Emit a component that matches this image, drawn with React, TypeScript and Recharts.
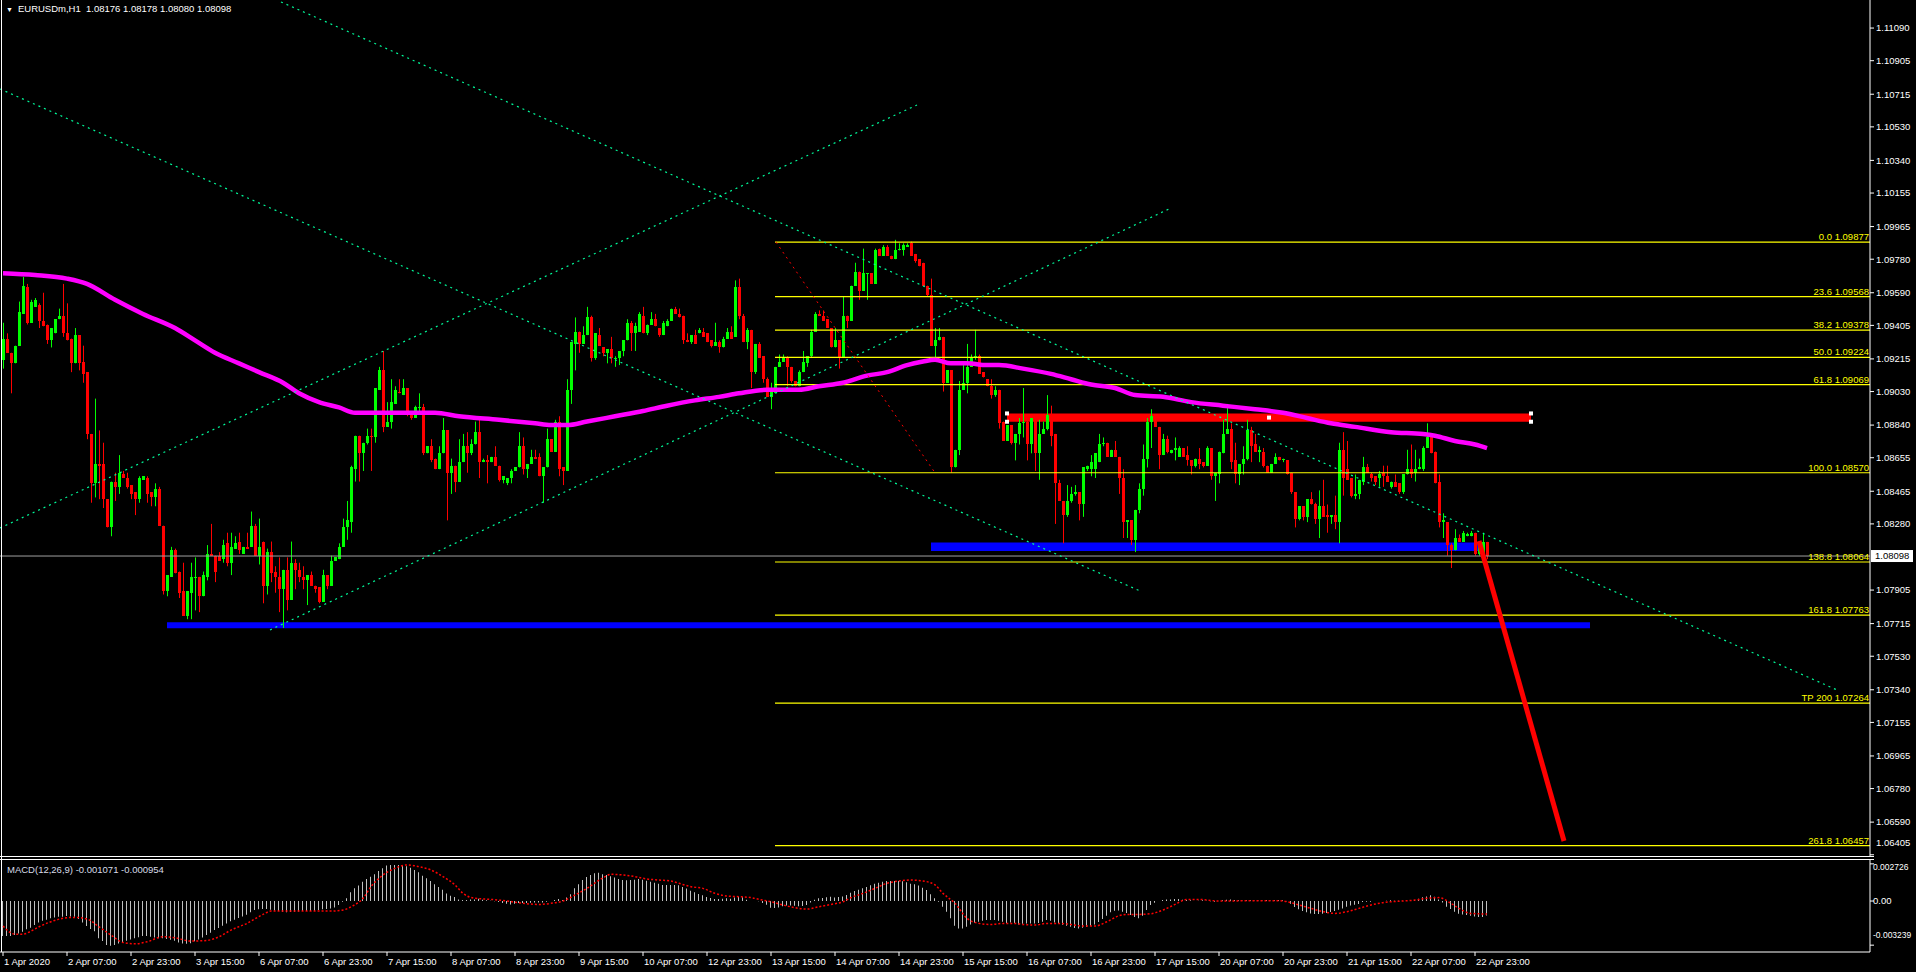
import React from "react";
import {
  ComposedChart,
  Bar,
  Line,
  XAxis,
  YAxis,
  ReferenceLine,
  ReferenceArea,
  ReferenceDot,
} from "recharts";

const FONT = "'Liberation Sans', Arial, sans-serif";

// hourly candles, 1 Apr 15:00 .. 23 Apr 02:00
const opens = [
  1.0921,1.0933,1.0925,1.0919,1.0929,1.0947,1.0962,1.0942,1.0951,1.0952,1.0943,1.0941,
  1.0932,1.0936,1.0944,1.0946,1.0936,1.0933,1.0919,1.0935,1.0920,1.0914,1.0879,1.0851,
  1.0862,1.0862,1.0842,1.0826,1.0852,1.0849,1.0856,1.0854,1.0850,1.0846,1.0842,1.0853,
  1.0854,1.0846,1.0843,1.0848,1.0827,1.0790,1.0798,1.0813,1.0801,1.0790,1.0776,1.0789,
  1.0798,1.0798,1.0787,1.0798,1.0811,1.0810,1.0810,1.0808,1.0817,1.0806,1.0814,1.0818,
  1.0811,1.0815,1.0815,1.0827,1.0810,1.0818,1.0793,1.0812,1.0801,1.0798,1.0791,1.0802,
  1.0785,1.0806,1.0802,1.0798,1.0796,1.0799,1.0793,1.0792,1.0784,1.0799,1.0793,1.0807,
  1.0808,1.0815,1.0826,1.0829,1.0859,1.0878,1.0868,1.0874,1.0878,1.0877,1.0904,1.0915,
  1.0883,1.0886,1.0896,1.0903,1.0901,1.0905,1.0891,1.0888,1.0894,1.0894,1.0868,1.0872,
  1.0865,1.0859,1.0868,1.0881,1.0857,1.0861,1.0852,1.0863,1.0872,1.0868,1.0873,1.0880,
  1.0863,1.0864,1.0863,1.0866,1.0861,1.0853,1.0851,1.0854,1.0858,1.0860,1.0872,1.0859,
  1.0862,1.0866,1.0866,1.0855,1.0860,1.0876,1.0869,1.0886,1.0860,1.0858,1.0904,1.0930,
  1.0937,1.0930,1.0935,1.0945,1.0922,1.0935,1.0928,1.0925,1.0927,1.0922,1.0922,1.0926,
  1.0932,1.0942,1.0936,1.0937,1.0946,1.0936,1.0941,1.0944,1.0939,1.0935,1.0940,1.0943,
  1.0950,1.0947,1.0946,1.0932,1.0931,1.0935,1.0936,1.0937,1.0936,1.0932,1.0929,1.0931,
  1.0928,1.0933,1.0937,1.0934,1.0962,1.0946,1.0931,1.0938,1.0914,1.0930,1.0923,1.0910,
  1.0900,1.0902,1.0917,1.0920,1.0922,1.0917,1.0909,1.0906,1.0914,1.0919,1.0923,1.0937,
  1.0947,1.0946,1.0944,1.0939,1.0928,1.0932,1.0922,1.0946,1.0943,1.0963,1.0971,1.0960,
  1.0970,1.0970,1.0964,1.0984,1.0980,1.0985,1.0980,1.0978,1.0983,1.0983,1.0985,1.0987,
  1.0981,1.0978,1.0976,1.0963,1.0958,1.0929,1.0932,1.0934,1.0908,1.0915,1.0860,1.0870,
  1.0904,1.0908,1.0917,1.0922,1.0923,1.0914,1.0910,1.0906,1.0901,1.0904,1.0886,1.0875,
  1.0884,1.0874,1.0879,1.0885,1.0886,1.0873,1.0887,1.0868,1.0879,1.0882,1.0887,1.0879,
  1.0851,1.0841,1.0833,1.0841,1.0845,1.0846,1.0839,1.0859,1.0859,1.0859,1.0863,1.0873,
  1.0874,1.0866,1.0870,1.0866,1.0854,1.0829,1.0830,1.0819,1.0836,1.0848,1.0865,1.0886,
  1.0889,1.0883,1.0867,1.0876,1.0868,1.0870,1.0866,1.0871,1.0867,1.0864,1.0861,1.0865,
  1.0863,1.0861,1.0871,1.0855,1.0856,1.0868,1.0879,1.0882,1.0864,1.0856,1.0862,1.0865,
  1.0881,1.0873,1.0869,1.0869,1.0861,1.0857,1.0862,1.0866,1.0864,1.0864,1.0857,1.0846,
  1.0831,1.0838,1.0832,1.0842,1.0839,1.0831,1.0838,1.0833,1.0832,1.0833,1.0829,1.0870,
  1.0859,1.0854,1.0844,1.0845,1.0852,1.0860,1.0856,1.0855,1.0854,1.0857,1.0855,1.0849,
  1.0852,1.0851,1.0846,1.0856,1.0859,1.0857,1.0859,1.0859,1.0871,1.0877,1.0869,1.0852,
  1.0829,1.0829,1.0816,1.0813,1.0820,1.0818,1.0821,1.0821,1.0823,1.0811,1.0811,1.08176,
];

const highs = [
  1.0942,1.0936,1.0925,1.0929,1.0954,1.0968,1.0964,1.0955,1.0956,1.0953,1.0959,1.0941,
  1.0939,1.0944,1.0950,1.0964,1.0953,1.0933,1.0939,1.0935,1.0929,1.0914,1.0879,1.0899,
  1.0881,1.0874,1.0842,1.0852,1.0857,1.0867,1.0858,1.0857,1.0850,1.0846,1.0855,1.0855,
  1.0855,1.0846,1.0851,1.0849,1.0827,1.0799,1.0815,1.0814,1.0801,1.0806,1.0790,1.0806,
  1.0809,1.0798,1.0801,1.0816,1.0828,1.0810,1.0812,1.0819,1.0823,1.0823,1.0821,1.0823,
  1.0815,1.0823,1.0835,1.0828,1.0831,1.0818,1.0814,1.0818,1.0804,1.0809,1.0802,1.0809,
  1.0818,1.0808,1.0806,1.0804,1.0799,1.0801,1.0793,1.0792,1.0802,1.0799,1.0810,1.0809,
  1.0817,1.0831,1.0841,1.0861,1.0878,1.0878,1.0874,1.0882,1.0882,1.0905,1.0917,1.0926,
  1.0897,1.0910,1.0906,1.0910,1.0910,1.0905,1.0891,1.0895,1.0902,1.0896,1.0872,1.0876,
  1.0865,1.0872,1.0888,1.0881,1.0865,1.0861,1.0876,1.0879,1.0880,1.0876,1.0886,1.0887,
  1.0865,1.0867,1.0866,1.0872,1.0861,1.0855,1.0854,1.0859,1.0860,1.0880,1.0877,1.0862,
  1.0870,1.0870,1.0868,1.0860,1.0882,1.0876,1.0887,1.0889,1.0860,1.0910,1.0931,1.0945,
  1.0937,1.0940,1.0951,1.0946,1.0936,1.0939,1.0928,1.0927,1.0934,1.0923,1.0926,1.0932,
  1.0944,1.0943,1.0942,1.0948,1.0951,1.0941,1.0948,1.0947,1.0939,1.0943,1.0944,1.0950,
  1.0951,1.0950,1.0946,1.0936,1.0935,1.0938,1.0939,1.0939,1.0936,1.0932,1.0942,1.0932,
  1.0934,1.0939,1.0940,1.0966,1.0967,1.0947,1.0939,1.0938,1.0930,1.0931,1.0923,1.0911,
  1.0908,1.0917,1.0924,1.0924,1.0923,1.0917,1.0909,1.0915,1.0926,1.0923,1.0938,1.0948,
  1.0949,1.0949,1.0944,1.0939,1.0939,1.0932,1.0957,1.0946,1.0963,1.0976,1.0971,1.0984,
  1.0970,1.0970,1.0984,1.0984,1.0986,1.0986,1.0980,1.0989,1.0987,1.0987,1.0987,1.0988,
  1.0981,1.0978,1.0976,1.0963,1.0967,1.0939,1.0939,1.0934,1.0915,1.0915,1.0870,1.0909,
  1.0918,1.0930,1.0924,1.0938,1.0924,1.0914,1.0910,1.0910,1.0906,1.0904,1.0886,1.0884,
  1.0884,1.0879,1.0888,1.0905,1.0888,1.0888,1.0888,1.0887,1.0886,1.0901,1.0895,1.0879,
  1.0853,1.0841,1.0850,1.0849,1.0850,1.0846,1.0860,1.0861,1.0867,1.0868,1.0879,1.0877,
  1.0874,1.0870,1.0875,1.0866,1.0859,1.0830,1.0830,1.0836,1.0851,1.0873,1.0888,1.0893,
  1.0890,1.0883,1.0879,1.0878,1.0870,1.0877,1.0872,1.0871,1.0872,1.0864,1.0865,1.0871,
  1.0863,1.0872,1.0871,1.0857,1.0869,1.0887,1.0896,1.0885,1.0874,1.0862,1.0872,1.0887,
  1.0883,1.0879,1.0872,1.0871,1.0861,1.0862,1.0868,1.0866,1.0865,1.0864,1.0857,1.0846,
  1.0838,1.0838,1.0842,1.0846,1.0840,1.0847,1.0853,1.0839,1.0833,1.0844,1.0874,1.0880,
  1.0875,1.0854,1.0856,1.0853,1.0866,1.0862,1.0857,1.0855,1.0858,1.0861,1.0861,1.0852,
  1.0856,1.0851,1.0856,1.0870,1.0873,1.0870,1.0865,1.0872,1.0885,1.0877,1.0869,1.0856,
  1.0834,1.0829,1.0817,1.0825,1.0822,1.0824,1.0823,1.0824,1.0823,1.0816,1.0823,1.08178,
];

const lows = [
  1.0916,1.0925,1.0902,1.0919,1.0929,1.0947,1.0941,1.0942,1.0951,1.0939,1.0940,1.0930,
  1.0928,1.0936,1.0944,1.0934,1.0932,1.0914,1.0919,1.0915,1.0908,1.0876,1.0840,1.0843,
  1.0842,1.0837,1.0826,1.0821,1.0841,1.0845,1.0854,1.0848,1.0842,1.0833,1.0840,1.0853,
  1.0840,1.0838,1.0838,1.0827,1.0788,1.0787,1.0798,1.0800,1.0786,1.0776,1.0774,1.0774,
  1.0779,1.0778,1.0787,1.0796,1.0810,1.0795,1.0807,1.0806,1.0804,1.0799,1.0814,1.0811,
  1.0811,1.0814,1.0815,1.0810,1.0805,1.0783,1.0788,1.0795,1.0789,1.0778,1.0769,1.0779,
  1.0785,1.0791,1.0795,1.0791,1.0782,1.0793,1.0789,1.0783,1.0784,1.0791,1.0793,1.0807,
  1.0808,1.0815,1.0819,1.0823,1.0852,1.0852,1.0858,1.0873,1.0858,1.0874,1.0904,1.0880,
  1.0883,1.0882,1.0896,1.0902,1.0901,1.0889,1.0887,1.0888,1.0892,1.0867,1.0868,1.0863,
  1.0859,1.0859,1.0868,1.0830,1.0845,1.0846,1.0852,1.0863,1.0857,1.0867,1.0873,1.0854,
  1.0863,1.0851,1.0863,1.0861,1.0852,1.0851,1.0850,1.0851,1.0858,1.0860,1.0856,1.0854,
  1.0862,1.0865,1.0855,1.0840,1.0860,1.0869,1.0869,1.0855,1.0850,1.0858,1.0896,1.0915,
  1.0925,1.0930,1.0935,1.0920,1.0921,1.0929,1.0923,1.0919,1.0919,1.0917,1.0918,1.0923,
  1.0932,1.0926,1.0926,1.0937,1.0936,1.0935,1.0941,1.0940,1.0934,1.0935,1.0940,1.0943,
  1.0947,1.0945,1.0930,1.0931,1.0930,1.0930,1.0936,1.0934,1.0931,1.0928,1.0929,1.0925,
  1.0928,1.0933,1.0933,1.0934,1.0944,1.0931,1.0927,1.0905,1.0913,1.0922,1.0908,1.0900,
  1.0893,1.0902,1.0917,1.0920,1.0906,1.0908,1.0906,1.0906,1.0914,1.0917,1.0922,1.0937,
  1.0946,1.0943,1.0939,1.0928,1.0928,1.0916,1.0922,1.0939,1.0943,1.0963,1.0955,1.0960,
  1.0955,1.0964,1.0964,1.0980,1.0980,1.0980,1.0978,1.0978,1.0983,1.0980,1.0985,1.0980,
  1.0976,1.0974,1.0963,1.0957,1.0929,1.0921,1.0932,1.0903,1.0908,1.0857,1.0860,1.0867,
  1.0904,1.0902,1.0917,1.0921,1.0913,1.0911,1.0906,1.0899,1.0900,1.0882,1.0875,1.0875,
  1.0873,1.0864,1.0873,1.0877,1.0864,1.0868,1.0858,1.0853,1.0879,1.0881,1.0872,1.0828,
  1.0841,1.0817,1.0832,1.0840,1.0844,1.0830,1.0832,1.0858,1.0855,1.0854,1.0863,1.0872,
  1.0866,1.0866,1.0866,1.0845,1.0820,1.0820,1.0816,1.0812,1.0834,1.0844,1.0860,1.0871,
  1.0883,1.0859,1.0867,1.0868,1.0868,1.0864,1.0866,1.0866,1.0861,1.0856,1.0860,1.0859,
  1.0860,1.0861,1.0853,1.0841,1.0851,1.0868,1.0879,1.0859,1.0851,1.0850,1.0856,1.0864,
  1.0863,1.0869,1.0863,1.0860,1.0857,1.0857,1.0862,1.0864,1.0863,1.0856,1.0845,1.0826,
  1.0830,1.0830,1.0829,1.0839,1.0828,1.0820,1.0832,1.0823,1.0828,1.0825,1.0817,1.0844,
  1.0853,1.0843,1.0842,1.0842,1.0850,1.0857,1.0852,1.0850,1.0849,1.0849,1.0852,1.0848,
  1.0849,1.0845,1.0845,1.0856,1.0854,1.0852,1.0859,1.0858,1.0871,1.0868,1.0851,1.0826,
  1.0820,1.0810,1.0803,1.0813,1.0818,1.0818,1.0821,1.0821,1.0810,1.0810,1.0811,1.0808,
];

const closes = [
  1.0933,1.0925,1.0919,1.0929,1.0948,1.0963,1.0942,1.0954,1.0955,1.0943,1.0940,1.0932,
  1.0939,1.0944,1.0946,1.0936,1.0932,1.0919,1.0935,1.0919,1.0913,1.0879,1.0851,1.0862,
  1.0861,1.0842,1.0826,1.0852,1.0849,1.0857,1.0854,1.0849,1.0845,1.0842,1.0854,1.0855,
  1.0845,1.0843,1.0848,1.0827,1.0790,1.0799,1.0813,1.0800,1.0789,1.0776,1.0790,1.0798,
  1.0798,1.0787,1.0799,1.0811,1.0810,1.0801,1.0807,1.0816,1.0806,1.0815,1.0817,1.0813,
  1.0815,1.0814,1.0827,1.0810,1.0815,1.0793,1.0812,1.0800,1.0798,1.0791,1.0802,1.0785,
  1.0806,1.0802,1.0798,1.0796,1.0799,1.0793,1.0791,1.0784,1.0799,1.0793,1.0807,1.0809,
  1.0815,1.0826,1.0830,1.0860,1.0878,1.0868,1.0874,1.0878,1.0877,1.0905,1.0915,1.0883,
  1.0886,1.0897,1.0904,1.0902,1.0905,1.0891,1.0888,1.0894,1.0894,1.0868,1.0872,1.0864,
  1.0859,1.0868,1.0881,1.0857,1.0861,1.0852,1.0863,1.0872,1.0868,1.0873,1.0880,1.0863,
  1.0864,1.0863,1.0866,1.0861,1.0853,1.0855,1.0854,1.0858,1.0860,1.0872,1.0859,1.0862,
  1.0866,1.0865,1.0855,1.0860,1.0876,1.0869,1.0886,1.0859,1.0858,1.0904,1.0931,1.0937,
  1.0930,1.0935,1.0945,1.0922,1.0936,1.0929,1.0925,1.0927,1.0922,1.0922,1.0926,1.0932,
  1.0942,1.0936,1.0940,1.0947,1.0936,1.0941,1.0944,1.0940,1.0935,1.0942,1.0943,1.0950,
  1.0947,1.0945,1.0932,1.0931,1.0935,1.0930,1.0938,1.0934,1.0931,1.0929,1.0931,1.0928,
  1.0933,1.0937,1.0933,1.0962,1.0946,1.0931,1.0938,1.0914,1.0930,1.0922,1.0910,1.0900,
  1.0903,1.0917,1.0920,1.0922,1.0917,1.0909,1.0906,1.0914,1.0920,1.0923,1.0937,1.0947,
  1.0946,1.0943,1.0939,1.0928,1.0932,1.0922,1.0946,1.0943,1.0963,1.0971,1.0960,1.0970,
  1.0970,1.0964,1.0983,1.0980,1.0985,1.0980,1.0978,1.0983,1.0984,1.0986,1.0986,1.0980,
  1.0977,1.0974,1.0963,1.0958,1.0929,1.0932,1.0934,1.0908,1.0915,1.0860,1.0870,1.0904,
  1.0908,1.0917,1.0922,1.0923,1.0913,1.0911,1.0906,1.0901,1.0904,1.0885,1.0875,1.0884,
  1.0874,1.0879,1.0885,1.0886,1.0873,1.0888,1.0868,1.0879,1.0882,1.0890,1.0878,1.0851,
  1.0841,1.0833,1.0841,1.0845,1.0846,1.0839,1.0860,1.0861,1.0863,1.0868,1.0873,1.0874,
  1.0866,1.0870,1.0866,1.0854,1.0829,1.0830,1.0819,1.0836,1.0848,1.0865,1.0886,1.0889,
  1.0883,1.0867,1.0876,1.0869,1.0870,1.0871,1.0871,1.0866,1.0864,1.0861,1.0865,1.0862,
  1.0861,1.0871,1.0855,1.0857,1.0869,1.0879,1.0882,1.0863,1.0856,1.0862,1.0865,1.0881,
  1.0872,1.0869,1.0870,1.0861,1.0857,1.0862,1.0866,1.0864,1.0865,1.0856,1.0846,1.0831,
  1.0838,1.0832,1.0842,1.0839,1.0831,1.0838,1.0832,1.0832,1.0833,1.0829,1.0870,1.0854,
  1.0853,1.0844,1.0845,1.0853,1.0860,1.0857,1.0854,1.0852,1.0856,1.0855,1.0852,1.0852,
  1.0849,1.0846,1.0856,1.0859,1.0856,1.0859,1.0860,1.0871,1.0877,1.0868,1.0851,1.0829,
  1.0830,1.0816,1.0813,1.0820,1.0818,1.0823,1.0822,1.0823,1.0811,1.0816,1.0818,1.08098,
];

// moving average (magenta), read at these bars
const maBars = [0,8,16,21,28,35,43,48,53,59,64,70,74,79,84,88,99,108,114,124,133,137,141,146,153,160,166,173,179,184,191,199,204,210,216,221,226,230,233,237,241,246,249,255,262,267,272,278,283,290,297,305,313,320,326,332,338,347,355,358,363,368,371];
const maValues = [1.0970,1.0969,1.0967,1.0964,1.0955,1.0947,1.0939,1.0932,1.0925,1.0919,1.0914,1.0908,1.0902,1.0897,1.0894,1.0891,1.0891,1.0891,1.0889,1.0887,1.0885,1.0884,1.0884,1.0886,1.0889,1.0892,1.0895,1.0898,1.0900,1.0902,1.0904,1.0904,1.0906,1.0908,1.0912,1.0914,1.0918,1.0920,1.0921,1.0919,1.0919,1.0918,1.0918,1.0916,1.0913,1.0910,1.0907,1.0905,1.0901,1.0900,1.0897,1.0895,1.0893,1.0891,1.0888,1.0885,1.0883,1.0880,1.0879,1.0878,1.0875,1.0873,1.0871];

// MACD(12,26,9) main histogram, one per bar
const macdHist = [
  -0.00257,-0.00257,-0.00257,-0.0025,-0.00238,-0.00225,-0.00208,-0.00196,-0.00176,-0.00157,-0.00145,-0.00137,
  -0.00127,-0.0012,-0.00115,-0.00115,-0.0011,-0.00113,-0.00115,-0.00132,-0.00157,-0.00184,-0.00206,-0.00221,
  -0.00274,-0.00294,-0.00323,-0.00328,-0.00323,-0.00311,-0.00304,-0.00292,-0.00282,-0.00274,-0.00265,-0.00257,
  -0.00257,-0.00262,-0.00267,-0.00274,-0.00274,-0.00279,-0.00284,-0.00292,-0.00304,-0.00311,-0.00314,-0.00309,
  -0.00296,-0.00282,-0.00267,-0.0025,-0.00233,-0.00213,-0.00198,-0.00181,-0.00164,-0.00149,-0.00137,-0.00125,
  -0.00113,-0.001,-0.00083,-0.00066,-0.00061,-0.00059,-0.00059,-0.00064,-0.00069,-0.00074,-0.00078,-0.00083,
  -0.00081,-0.00078,-0.00076,-0.00074,-0.00074,-0.00074,-0.00071,-0.00066,-0.00061,-0.00059,-0.00054,-0.00047,
  -0.00029,-0.00005,0.0002,0.00064,0.00093,0.00113,0.00142,0.00162,0.00179,0.00196,0.00221,0.0024,
  0.0026,0.00265,0.00265,0.00265,0.00262,0.00255,0.00245,0.00228,0.00211,0.00186,0.00167,0.00147,
  0.00123,0.00103,0.00083,0.00056,0.00039,0.00029,0.00012,0.00007,0.00007,0.00012,0.00012,0.00017,
  0.0001,0.00005,0.00002,-0.00002,-0.00007,-0.00015,-0.0002,-0.00025,-0.0002,-0.00015,-0.00015,-0.00015,
  -0.00012,-0.0001,-0.0001,-0.0001,-0.00005,0,0.00007,0.00015,0.00007,0.00025,0.00049,0.00093,
  0.00123,0.00154,0.00176,0.00191,0.00203,0.00208,0.00196,0.00191,0.00181,0.00172,0.00162,0.00154,
  0.00152,0.00154,0.00157,0.00162,0.00157,0.00149,0.00142,0.00135,0.00127,0.00118,0.00118,0.00118,
  0.00118,0.00115,0.00103,0.00091,0.00076,0.00064,0.00051,0.00042,0.00029,0.00022,0.00015,0.00015,
  0.00017,0.0002,0.00017,0.00025,0.00032,0.00027,0.0001,0,0,-0.00002,-0.00015,-0.00027,
  -0.00049,-0.00051,-0.00047,-0.00039,-0.00032,-0.00032,-0.00034,-0.00039,-0.00037,-0.00029,-0.0001,0.0001,
  0.0002,0.00022,0.00027,0.00032,0.00025,0.00029,0.00034,0.00044,0.00061,0.00074,0.00083,0.00093,
  0.00103,0.00115,0.00127,0.00135,0.00142,0.00147,0.00147,0.00147,0.00147,0.00145,0.00137,0.00127,
  0.00123,0.00113,0.00098,0.00081,0.00049,0.0002,-0.00005,-0.00042,-0.00078,-0.00127,-0.00181,-0.00201,
  -0.00201,-0.00189,-0.00172,-0.00159,-0.00152,-0.00145,-0.0014,-0.0014,-0.0014,-0.00145,-0.00152,-0.00162,
  -0.00157,-0.00162,-0.00172,-0.00167,-0.00164,-0.00164,-0.00164,-0.00162,-0.00152,-0.0014,-0.00145,-0.00157,
  -0.00164,-0.00174,-0.00181,-0.00189,-0.00198,-0.00201,-0.00196,-0.00191,-0.00181,-0.00172,-0.00154,-0.00132,
  -0.00108,-0.00083,-0.00071,-0.00069,-0.00078,-0.00088,-0.00103,-0.00118,-0.00127,-0.00108,-0.00066,-0.00029,
  -0.00012,0,0.00007,0.00012,0.00012,0.00015,0.00015,0.0001,0.00007,0.00005,0,0.00002,
  0.00005,0.00002,-0.00002,-0.00005,0,0.00005,0.0001,0.00012,0.00007,0.00005,0.00002,0.00005,
  0.00005,0.00002,0.00002,0.00002,0.00007,0.00002,0.00005,0.00007,0.00005,-0.00002,-0.0002,-0.00044,
  -0.00061,-0.00074,-0.00083,-0.00091,-0.00096,-0.00096,-0.00093,-0.00088,-0.00081,-0.00074,-0.00064,-0.00054,
  -0.00042,-0.00032,-0.00027,-0.00022,-0.00007,-0.00005,-0.00005,0,0,0,0.00002,0.00005,
  0.00002,0.00002,0.00002,0.00002,0.00002,0.00007,0.00017,0.00027,0.00034,0.00042,0.00032,0.00012,
  -0.0001,-0.00042,-0.00059,-0.00078,-0.00093,-0.00098,-0.00103,-0.00108,-0.00113,-0.00118,-0.00118,-0.001071,
];

// MACD signal line, read at these bars
const signalBars = [0,3,5,7,9,12,15,18,21,24,27,30,33,36,40,43,47,51,54,57,61,65,67,71,76,82,85,87,90,92,95,98,101,104,107,110,113,115,118,122,126,130,134,137,140,143,146,150,152,155,158,161,164,167,169,172,175,178,181,184,187,189,192,195,198,201,204,207,210,212,215,218,221,224,227,230,233,235,238,241,244,247,250,253,255,258,261,264,267,270,273,276,279,281,284,287,290,293,296,299,301,304,307,310,314,319,321,324,327,330,333,336,339,342,345,347,350,353,356,359,362,364,367,371];
const signalValues = [-0.00184,-0.00243,-0.00243,-0.00221,-0.00189,-0.00152,-0.00127,-0.0012,-0.00132,-0.00189,-0.0025,-0.00304,-0.00314,-0.00299,-0.00262,-0.0027,-0.00294,-0.00289,-0.00262,-0.00213,-0.00164,-0.00098,-0.00074,-0.00074,-0.00074,-0.00074,-0.00066,-0.00042,0.0002,0.00105,0.00191,0.0024,0.00265,0.00252,0.00228,0.00179,0.00118,0.00056,0.0002,0.00012,0,-0.00017,-0.00025,-0.00017,0,0.00044,0.00093,0.0017,0.00196,0.00191,0.00179,0.00162,0.00154,0.00147,0.0013,0.00105,0.00093,0.00056,0.00037,0.00032,0.00025,0.00012,-0.00005,-0.00029,-0.00049,-0.00059,-0.00042,-0.00025,-0.00005,0.00025,0.00056,0.00093,0.0013,0.00147,0.00154,0.00147,0.00118,0.00056,-0.00017,-0.00127,-0.00164,-0.00172,-0.00164,-0.00164,-0.00172,-0.00176,-0.00164,-0.00164,-0.00172,-0.00184,-0.00184,-0.00152,-0.00108,-0.00098,-0.00098,-0.00093,-0.00066,-0.00025,0.00012,0.00012,0.00007,0,0,0.00002,0.00002,0.00002,-0.00005,-0.00029,-0.00054,-0.00078,-0.00091,-0.00078,-0.00054,-0.00029,-0.00012,-0.00005,0,0.00007,0.0002,0.00025,-0.00017,-0.00054,-0.00091,-0.000954];

const timeLabels = ["1 Apr 2020","2 Apr 07:00","2 Apr 23:00","3 Apr 15:00","6 Apr 07:00","6 Apr 23:00","7 Apr 15:00","8 Apr 07:00","8 Apr 23:00","9 Apr 15:00","10 Apr 07:00","12 Apr 23:00","13 Apr 15:00","14 Apr 07:00","14 Apr 23:00","15 Apr 15:00","16 Apr 07:00","16 Apr 23:00","17 Apr 15:00","20 Apr 07:00","20 Apr 23:00","21 Apr 15:00","22 Apr 07:00","22 Apr 23:00"];
const timeBars = timeLabels.map((_, k) => k * 16);

const priceTicks = [1.1109,1.10905,1.10715,1.1053,1.1034,1.10155,1.09965,1.0978,1.0959,1.09405,1.09215,1.0903,1.0884,1.08655,1.08465,1.0828,1.07905,1.07715,1.0753,1.0734,1.07155,1.06965,1.0678,1.0659,1.06405];
const macdTicks = [0.002726, 0, -0.003239];
const macdTickText = ["0.002726", "0.00", "-0.003239"];

const currentPrice = 1.08098;

// fibonacci levels drawn from the 14 Apr high to the 15 Apr low
const fibNames = ["0.0","23.6","38.2","50.0","61.8","100.0","138.8","161.8","TP 200","261.8"];
const fibPrices = [1.09877,1.09568,1.09378,1.09224,1.09069,1.0857,1.08064,1.07763,1.07264,1.06457];
const fibStartBar = 193;

// dotted channel lines: [bar1, price1, bar2, price2]
const channelLines = [
  [69.5, 1.11238, 458.5, 1.07339],
  [-0.75, 1.10745, 284.25, 1.079],
  [-0.75, 1.08257, 228.5, 1.10654],
  [66.75, 1.07679, 292, 1.1007],
];
const fibTrend = [193.25, 1.09877, 233, 1.0857];
const arrowLine = [369, 1.08183, 390.25, 1.06483];

// zones: [bar1, bar2, priceLow, priceHigh]
const resistanceZone = [251, 382, 1.08859, 1.08906];
const supportZones = [
  [232, 370, 1.08126, 1.08174],
  [41, 396.75, 1.07688, 1.07722],
];

const X_DOMAIN = [-0.75, 466.75];

const maMap = new Map(maBars.map((b, k) => [b, maValues[k]]));
const sigMap = new Map(signalBars.map((b, k) => [b, signalValues[k]]));

const rows = closes.map((c, i) => ({
  i,
  open: opens[i],
  high: highs[i],
  low: lows[i],
  close: c,
  range: [lows[i], highs[i]],
  ma: maMap.has(i) ? maMap.get(i) : null,
  macd: macdHist[i],
  signal: sigMap.has(i) ? sigMap.get(i) : null,
}));

const Candle = (props: any) => {
  const { x, y, width, height, payload } = props;
  if (!payload || x == null || y == null) return null;
  const top = Math.min(y, y + height);
  const h = Math.abs(height);
  const span = payload.high - payload.low;
  const py = (v: number) => (span > 0 ? top + ((payload.high - v) / span) * h : top);
  const up = payload.close >= payload.open;
  const color = up ? "#00ff00" : "#ff0000";
  const cx = Math.round(x + width / 2);
  const b1 = Math.round(py(Math.max(payload.open, payload.close)));
  const b2 = Math.round(py(Math.min(payload.open, payload.close)));
  return (
    <g>
      <line x1={cx + 0.5} x2={cx + 0.5} y1={top} y2={top + Math.max(h, 1)} stroke={color} strokeWidth={1} />
      <rect x={cx - 1} y={b1} width={3} height={Math.max(1, b2 - b1)} fill={color} />
    </g>
  );
};

const PriceTick = (props: any) => {
  const { x, y, payload } = props;
  const ty = Math.min(y, 843);
  return (
    <text x={x} y={ty} dy="0.35em" fill="#ffffff" fontSize={9.5} fontFamily={FONT}>
      {Number(payload.value).toFixed(5)}
    </text>
  );
};

const MacdTick = (props: any) => {
  const { x, y, payload } = props;
  const k = macdTicks.indexOf(payload.value);
  const off = k === 0 ? 3 : k === 2 ? -10 : 0;
  const size = k === 1 ? 9.5 : 8.5;
  return (
    <text x={x - 3} y={y + off} dy="0.35em" fill="#ffffff" fontSize={size} fontFamily={FONT}>
      {k >= 0 ? macdTickText[k] : ""}
    </text>
  );
};

const TimeTick = (props: any) => {
  const { x, y, payload } = props;
  const k = timeBars.indexOf(payload.value);
  return (
    <text x={x + 1} y={y} dy="0.71em" fill="#ffffff" fontSize={9.5} fontFamily={FONT} textAnchor="start">
      {k >= 0 ? timeLabels[k] : ""}
    </text>
  );
};

const fibLabel = (text: string) => (props: any) => {
  const vb = props.viewBox || {};
  return (
    <text x={vb.x + vb.width - 1} y={vb.y - 2} textAnchor="end" fill="#ffff00" fontSize={9.5} fontFamily={FONT}>
      {text}
    </text>
  );
};

const priceLabel = (props: any) => {
  const vb = props.viewBox || {};
  const x = vb.x + vb.width;
  return (
    <g>
      <rect x={x + 1} y={vb.y - 6} width={42} height={12} fill="#ffffff" />
      <text x={x + 5} y={vb.y} dy="0.35em" fill="#000000" fontSize={9.5} fontFamily={FONT}>
        {currentPrice.toFixed(5)}
      </text>
    </g>
  );
};

const Marker = (props: any) => (
  <rect x={props.cx - 2} y={props.cy - 2} width={4} height={4} fill="#ffffff" />
);

export default function App() {
  return (
    <div style={{ position: "fixed", left: 0, top: 0, width: 1916, height: 972, background: "#000", overflow: "hidden" }}>
      <div style={{ position: "absolute", left: 0, top: 0 }}>
        <ComposedChart width={1916} height={856} data={rows} margin={{ top: 0, right: 0, bottom: 0, left: 0 }}>
          <XAxis dataKey="i" type="number" domain={X_DOMAIN} hide allowDataOverflow />
          <YAxis
            orientation="right"
            width={46}
            type="number"
            domain={[1.06398, 1.11249]}
            ticks={priceTicks}
            interval={0}
            allowDataOverflow
            axisLine={{ stroke: "#ffffff" }}
            tickLine={{ stroke: "#ffffff" }}
            tickSize={4}
            tickMargin={2}
            tick={<PriceTick />}
          />
          {supportZones.map((z, k) => (
            <ReferenceArea key={"s" + k} x1={z[0]} x2={z[1]} y1={z[2]} y2={z[3]} fill="#0000ff" fillOpacity={1} stroke="none" />
          ))}
          <ReferenceArea
            x1={resistanceZone[0]}
            x2={resistanceZone[1]}
            y1={resistanceZone[2]}
            y2={resistanceZone[3]}
            fill="#ff0000"
            fillOpacity={1}
            stroke="none"
          />
          <ReferenceLine y={currentPrice} stroke="#a0a0a0" strokeWidth={1} label={priceLabel} />
          {fibPrices.map((p, k) => (
            <ReferenceLine
              key={"f" + k}
              segment={[{ x: fibStartBar, y: p }, { x: X_DOMAIN[1], y: p }]}
              stroke="#ffff00"
              strokeWidth={1.2}
              label={fibLabel(fibNames[k] + " " + p.toFixed(5))}
            />
          ))}
          <Bar dataKey="range" shape={<Candle />} barSize={3} isAnimationActive={false} activeBar={false} />
          <Line
            dataKey="ma"
            type="monotone"
            stroke="#ff00ff"
            strokeWidth={4.5}
            dot={false}
            activeDot={false}
            connectNulls
            isAnimationActive={false}
          />
          {channelLines.map((l, k) => (
            <ReferenceLine
              key={"c" + k}
              segment={[{ x: l[0], y: l[1] }, { x: l[2], y: l[3] }]}
              stroke="#00fa9a"
              strokeWidth={1.2}
              strokeDasharray="2 4"
            />
          ))}
          <ReferenceLine
            segment={[{ x: fibTrend[0], y: fibTrend[1] }, { x: fibTrend[2], y: fibTrend[3] }]}
            stroke="#ff0000"
            strokeWidth={1}
            strokeDasharray="2 4"
          />
          <ReferenceLine
            segment={[{ x: arrowLine[0], y: arrowLine[1] }, { x: arrowLine[2], y: arrowLine[3] }]}
            stroke="#ff0000"
            strokeWidth={5}
          />
          {[
            [resistanceZone[0], resistanceZone[3]],
            [resistanceZone[0], resistanceZone[2]],
            [(resistanceZone[0] + resistanceZone[1]) / 2, (resistanceZone[2] + resistanceZone[3]) / 2],
            [resistanceZone[1], resistanceZone[3]],
            [resistanceZone[1], resistanceZone[2]],
          ].map((m, k) => (
            <ReferenceDot key={"m" + k} x={m[0]} y={m[1]} r={2} shape={<Marker />} />
          ))}
        </ComposedChart>
      </div>

      <div style={{ position: "absolute", left: 0, top: 856 }}>
        <ComposedChart width={1916} height={116} data={rows} margin={{ top: 4, right: 0, bottom: 0, left: 0 }}>
          <XAxis
            dataKey="i"
            type="number"
            domain={X_DOMAIN}
            allowDataOverflow
            ticks={timeBars}
            interval={0}
            height={20}
            axisLine={{ stroke: "#ffffff" }}
            tickLine={{ stroke: "#ffffff" }}
            tickSize={4}
            tickMargin={2}
            tick={<TimeTick />}
          />
          <YAxis
            orientation="right"
            width={46}
            type="number"
            domain={[-0.00374, 0.00301]}
            ticks={macdTicks}
            interval={0}
            allowDataOverflow
            axisLine={{ stroke: "#ffffff" }}
            tickLine={{ stroke: "#ffffff" }}
            tickSize={4}
            tickMargin={2}
            tick={<MacdTick />}
          />
          <Bar dataKey="macd" fill="#c0c0c0" barSize={1} isAnimationActive={false} activeBar={false} />
          <Line
            dataKey="signal"
            type="monotone"
            stroke="#ff0000"
            strokeWidth={1.5}
            strokeDasharray="2 2"
            dot={false}
            activeDot={false}
            connectNulls
            isAnimationActive={false}
          />
        </ComposedChart>
      </div>

      {/* frame lines */}
      <div style={{ position: "absolute", left: 1, top: 0, width: 1, height: 952, background: "#fff" }} />
      <div style={{ position: "absolute", left: 0, top: 856, width: 1874, height: 1, background: "#fff" }} />
      <div style={{ position: "absolute", left: 0, top: 859, width: 1874, height: 1, background: "#fff" }} />

      <div style={{ position: "absolute", left: 6, top: 3, color: "#fff", fontFamily: FONT, fontSize: 9.5, whiteSpace: "pre" }}>
        <span style={{ fontSize: 7, marginRight: 5 }}>▼</span>
        {"EURUSDm,H1  1.08176 1.08178 1.08080 1.08098"}
      </div>
      <div style={{ position: "absolute", left: 7, top: 864, color: "#d8dce8", fontFamily: FONT, fontSize: 9.5, whiteSpace: "pre" }}>
        {"MACD(12,26,9) -0.001071 -0.000954"}
      </div>
    </div>
  );
}
